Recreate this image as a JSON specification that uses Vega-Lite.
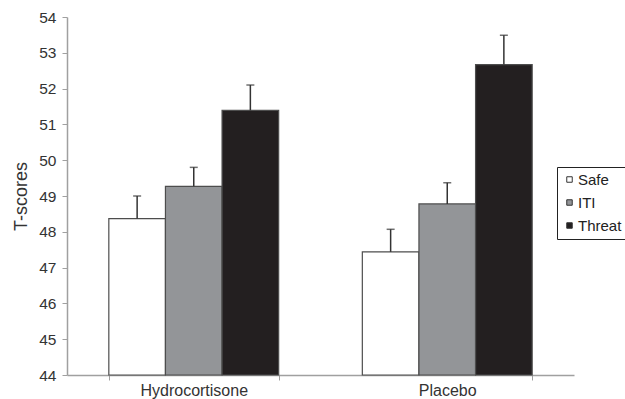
{
  "$schema": "https://vega.github.io/schema/vega-lite/v6.json",
  "width": 507,
  "height": 358,
  "autosize": {"type": "none"},
  "padding": {"left": 67, "top": 17, "right": 51, "bottom": 24},
  "background": "white",
  "config": {
    "view": {"stroke": null},
    "font": "Liberation Sans",
    "axis": {"labelFont": "Liberation Sans", "titleFont": "Liberation Sans", "labelColor": "#333333", "titleColor": "#333333", "domainColor": "#a0a0a0", "tickColor": "#a0a0a0", "grid": false, "titleFontWeight": "normal"},
    "legend": {"labelFont": "Liberation Sans"}
  },
  "data": {
    "values": [
      {"group": "Hydrocortisone", "condition": "Safe", "mean": 48.37, "upper": 49.0},
      {"group": "Hydrocortisone", "condition": "ITI", "mean": 49.27, "upper": 49.8},
      {"group": "Hydrocortisone", "condition": "Threat", "mean": 51.39, "upper": 52.1},
      {"group": "Placebo", "condition": "Safe", "mean": 47.44, "upper": 48.07},
      {"group": "Placebo", "condition": "ITI", "mean": 48.78, "upper": 49.37},
      {"group": "Placebo", "condition": "Threat", "mean": 52.67, "upper": 53.49}
    ]
  },
  "encoding": {
    "x": {
      "field": "group", "type": "nominal", "title": null,
      "scale": {"paddingInner": 0.33, "paddingOuter": 0.165},
      "axis": {"labelAngle": 0, "labelFontSize": 16, "tickBand": "extent", "tickSize": 5, "labelPadding": 2, "domainWidth": 1.5}
    },
    "xOffset": {
      "field": "condition", "type": "nominal", "sort": ["Safe", "ITI", "Threat"],
      "scale": {"paddingInner": 0, "paddingOuter": 0}
    }
  },
  "layer": [
    {
      "mark": {"type": "bar", "stroke": "#4d4d4d", "strokeWidth": 1.2},
      "encoding": {
        "y": {
          "field": "mean", "type": "quantitative", "title": "T-scores",
          "scale": {"domain": [44, 54], "zero": false, "nice": false},
          "axis": {"values": [44, 45, 46, 47, 48, 49, 50, 51, 52, 53, 54], "labelOverlap": false, "labelFontSize": 15.5, "titleFontSize": 18, "tickSize": 5, "labelPadding": 6, "titlePadding": 8, "domainWidth": 1.5}
        },
        "y2": {"datum": 44},
        "fill": {
          "field": "condition", "type": "nominal", "sort": ["Safe", "ITI", "Threat"],
          "scale": {"domain": ["Safe", "ITI", "Threat"], "range": ["#ffffff", "#939598", "#231f20"]},
          "legend": {
            "title": null, "orient": "none", "legendX": 490, "legendY": 150,
            "symbolType": "square", "symbolSize": 30, "symbolStrokeColor": "#333333", "symbolStrokeWidth": 1,
            "labelFontSize": 15, "labelColor": "#222222", "labelOffset": 1,
            "strokeColor": "#222222", "padding": 5, "rowPadding": 7,
            "fillColor": "white"
          }
        }
      }
    },
    {
      "mark": {"type": "rule", "color": "#333333", "strokeWidth": 1.5},
      "encoding": {
        "y": {
          "field": "mean", "type": "quantitative", "title": "T-scores",
          "axis": {"values": [44, 45, 46, 47, 48, 49, 50, 51, 52, 53, 54], "labelOverlap": false, "labelFontSize": 15.5, "titleFontSize": 18, "tickSize": 5, "labelPadding": 6, "titlePadding": 8, "domainWidth": 1.5}
        },
        "y2": {"field": "upper"}
      }
    },
    {
      "mark": {"type": "tick", "color": "#333333", "thickness": 1.5, "size": 8, "orient": "horizontal"},
      "encoding": {
        "y": {
          "field": "upper", "type": "quantitative", "title": "T-scores",
          "axis": {"values": [44, 45, 46, 47, 48, 49, 50, 51, 52, 53, 54], "labelOverlap": false, "labelFontSize": 15.5, "titleFontSize": 18, "tickSize": 5, "labelPadding": 6, "titlePadding": 8, "domainWidth": 1.5}
        }
      }
    }
  ]
}
